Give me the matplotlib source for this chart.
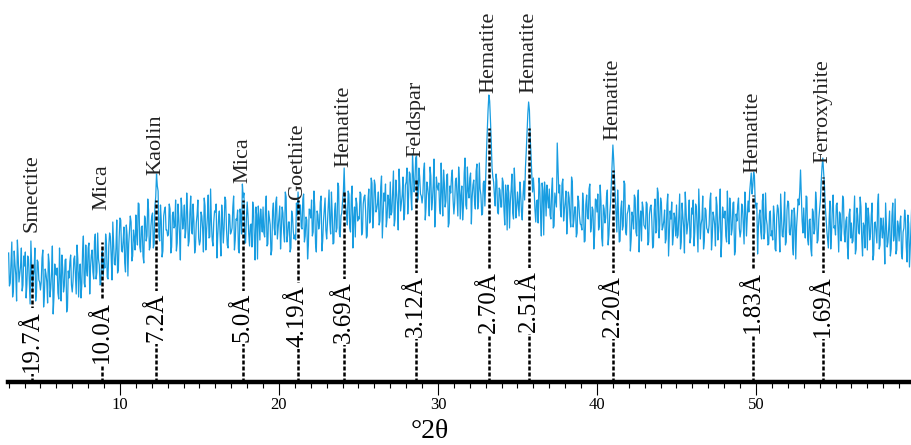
import numpy as np
import matplotlib
matplotlib.use("Agg")
import matplotlib.pyplot as plt
from matplotlib.ticker import MultipleLocator

plt.rcParams['font.family'] = ['Liberation Serif', 'DejaVu Serif']

# XRD trace. Two interleaved scans:
# intensity_a at 3.00, 3.10, 3.20 ... deg 2-theta; intensity_b at 3.05, 3.15, 3.25 ...
two_theta_start = 3.0
two_theta_step = 0.1
intensity_a = [
    129,99,140,92,118,81,125,108,134,97,
    116,84,126,100,141,91,111,81,122,102,
    92,124,75,113,100,128,85,110,68,118,
    107,89,134,81,114,96,123,74,104,127,
    90,123,106,137,85,118,97,146,95,113,
    134,88,127,110,141,103,149,117,98,131,
    123,148,105,136,145,102,140,117,162,112,
    164,132,141,119,157,106,151,160,126,144,
    167,137,178,130,156,119,163,146,172,135,
    166,134,176,208,191,141,161,131,172,152,
    146,178,129,167,154,182,139,164,122,172,
    162,144,189,136,169,151,178,129,159,182,
    137,170,153,184,132,165,144,193,142,160,
    170,124,163,146,177,139,185,153,134,167,
    150,175,132,163,172,129,167,198,189,139,
    180,148,157,135,173,122,167,176,142,160,
    175,145,186,138,164,127,171,154,180,143,
    165,133,175,149,190,140,160,130,171,151,
    147,179,190,168,155,183,140,165,123,173,
    164,146,191,138,171,153,180,131,161,184,
    143,176,159,190,138,171,150,199,148,166,
    181,214,174,157,188,150,196,164,145,178,
    165,190,147,178,187,144,182,159,204,154,
    202,170,179,157,195,144,189,198,164,182,
    200,170,211,163,189,152,196,179,205,168,
    200,168,210,186,228,190,224,180,214,188,
    179,211,162,200,187,215,172,197,155,205,
    192,174,219,166,199,181,208,159,189,212,
    168,201,184,215,163,196,175,224,173,191,
    204,158,197,180,211,173,219,187,168,201,
    205,252,287,262,214,200,176,201,168,192,
    175,200,157,188,197,154,192,169,214,164,
    190,166,189,162,201,214,250,280,244,207,
    204,172,181,159,197,146,191,200,166,184,
    193,163,204,156,182,239,189,172,198,161,
    180,148,190,164,205,155,175,145,186,166,
    157,189,140,178,165,193,150,175,133,183,
    170,152,197,144,177,159,186,137,167,198,
    237,204,168,192,140,173,152,201,150,168,
    177,131,170,153,184,146,192,160,141,174,
    155,180,137,168,177,134,172,149,194,144,
    184,152,161,139,177,126,171,180,146,164,
    177,147,188,140,166,129,173,156,182,145,
    168,136,178,152,193,143,163,133,174,154,
    149,181,132,170,157,185,142,167,125,175,
    164,146,191,138,171,153,180,131,161,184,
    145,178,158,190,146,181,190,209,196,206,
    174,128,167,150,181,143,189,157,138,171,
    151,176,133,164,173,130,168,145,190,140,
    181,149,158,136,174,123,168,177,212,161,
    174,144,185,137,163,126,170,153,179,142,
    172,200,224,198,165,143,163,133,174,154,
    147,179,130,168,155,183,140,165,123,173,
    159,141,186,133,166,148,175,126,156,179,
    132,165,148,179,127,160,139,188,137,155,
    164,118,157,140,171,133,179,147,128,161,
    141,166,123,154,163,120,158,135,180,130,
]
intensity_b = [
    96,121,85,131,107,142,100,116,91,126,
    130,98,123,78,115,106,134,89,120,100,
    100,132,88,108,79,119,94,136,85,109,
    114,83,105,127,90,122,70,111,120,97,
    101,126,88,123,109,84,131,99,137,106,
    139,115,132,103,148,110,123,97,129,106,
    114,139,103,149,125,160,118,134,109,144,
    162,130,155,110,147,138,166,121,152,132,
    147,179,135,155,126,166,141,183,132,156,
    169,138,185,196,145,177,125,166,175,152,
    148,173,135,170,156,131,178,146,184,153,
    177,153,170,141,186,148,161,135,167,144,
    141,166,130,176,152,187,145,161,136,171,
    178,146,171,126,163,154,182,137,168,148,
    154,186,142,162,133,173,148,185,139,163,
    167,136,158,180,143,175,123,164,173,150,
    149,174,136,171,157,132,179,147,185,154,
    176,152,169,140,185,147,160,134,166,143,
    142,167,175,177,153,188,146,162,137,172,
    182,150,175,130,167,158,186,141,172,152,
    160,192,148,168,139,179,154,196,145,169,
    190,185,169,191,154,186,134,175,184,161,
    163,188,150,185,171,146,193,161,199,168,
    197,173,190,161,206,168,181,155,187,164,
    167,192,156,202,178,213,171,187,162,197,
    214,185,208,172,210,200,226,183,205,186,
    187,219,175,195,166,206,181,223,172,196,
    199,168,190,212,175,207,155,196,205,182,
    179,204,166,201,187,162,209,177,215,184,
    209,185,202,173,218,180,193,167,199,176,
    230,272,281,240,205,186,208,170,194,175,
    204,172,197,152,189,180,208,163,194,174,
    178,200,170,187,182,230,268,272,228,190,
    191,160,182,204,167,199,147,188,197,174,
    167,192,154,189,175,215,197,165,203,172,
    191,167,184,155,200,162,175,149,181,158,
    152,177,141,187,163,198,156,172,147,182,
    188,156,181,136,173,164,192,147,178,220,
    222,185,150,170,141,181,156,198,147,171,
    174,143,165,187,150,182,130,171,180,157,
    153,178,140,175,161,136,183,151,189,158,
    179,155,172,143,188,150,163,137,169,146,
    144,169,133,179,155,190,148,164,139,174,
    182,150,175,130,167,158,186,141,172,152,
    157,189,145,165,136,176,151,193,142,166,
    171,140,162,184,147,179,127,168,177,154,
    151,176,138,173,165,170,200,188,210,180,
    179,155,172,143,188,150,163,137,169,146,
    142,167,131,177,153,188,146,162,137,172,
    179,147,172,127,164,155,183,190,185,149,
    154,186,142,162,133,173,148,190,139,163,
    182,215,210,178,152,134,181,149,187,156,
    177,153,170,141,186,148,161,135,167,144,
    139,164,128,174,150,185,143,159,134,169,
    174,142,167,122,159,150,178,133,164,144,
    147,179,135,155,126,166,141,183,132,156,
    159,128,150,172,135,167,115,156,165,142,
]

# Identified reflections
peak_positions = [4.48, 8.84, 12.28, 17.73, 21.19, 24.1, 28.6, 33.2, 35.7, 41.0, 49.8, 54.2]
d_spacings = ["19.7Å", "10.0Å", "7.2Å", "5.0Å", "4.19Å", "3.69Å", "3.12Å",
              "2.70Å", "2.51Å", "2.20Å", "1.83Å", "1.69Å"]
minerals = ["Smectite", "Mica", "Kaolin", "Mica", "Goethite", "Hematite", "Feldspar",
            "Hematite", "Hematite", "Hematite", "Hematite", "Ferroxyhite"]
x_ticks = [10, 20, 30, 40, 50]
x_label = "°2θ"

# Layout (annotation heights in axis units)
line_tops = [119, 140, 182, 182, 182, 192, 202, 254, 254, 212, 187, 205]
d_label_bottoms = [10, 19, 40, 40, 35, 39, 45, 49, 50, 45, 49, 45]
mineral_label_bottoms = [150, 172, 207, 199, 182, 215, 225, 289, 289, 242, 209, 219]

W, H = 912, 445
fig = plt.figure(figsize=(W / 100, H / 100), dpi=100)
ax = fig.add_axes([8 / W, 63 / H, 904 / W, 382 / H])

n = len(intensity_a)
xa = two_theta_start + two_theta_step * np.arange(n)
xb = xa + two_theta_step / 2
x = np.empty(2 * n)
y = np.empty(2 * n)
x[0::2], x[1::2] = xa, xb
y[0::2], y[1::2] = intensity_a, intensity_b
ax.plot(x, y, color='#189de1', lw=0.9, zorder=2)

for px, top, db, mb, dlab, mlab in zip(peak_positions, line_tops, d_label_bottoms,
                                       mineral_label_bottoms, d_spacings, minerals):
    ax.plot([px, px], [0, top], color='black', lw=1.8,
            linestyle=(0, (1.6, 0.8)), zorder=3, solid_capstyle='butt')
    ax.text(px, db, dlab, rotation=90, ha='center', va='bottom', fontsize=18,
            zorder=4, bbox=dict(facecolor='white', edgecolor='none', pad=1.5))
    ax.text(px, mb, mlab, rotation=90, ha='center', va='bottom', fontsize=16,
            color='#222222', zorder=4)

ax.set_xlim(2.96, 59.81)
ax.set_ylim(0, 382)
for s in ['top', 'left', 'right']:
    ax.spines[s].set_visible(False)
ax.spines['bottom'].set_linewidth(3.2)
ax.spines['bottom'].set_zorder(5)
ax.set_yticks([])
ax.set_xticks(x_ticks)
ax.set_xticklabels([str(t) for t in x_ticks])
ax.xaxis.set_minor_locator(MultipleLocator(1))
ax.tick_params(axis='x', which='major', direction='out', length=9.5, width=0.8,
               pad=1.5, labelsize=12, colors='black')
ax.tick_params(axis='x', which='minor', direction='out', length=4, width=0.8)
ax.text(29.5, -50, x_label, ha='center', va='center', fontsize=20, clip_on=False)

fig.savefig('out.png', dpi=100)
